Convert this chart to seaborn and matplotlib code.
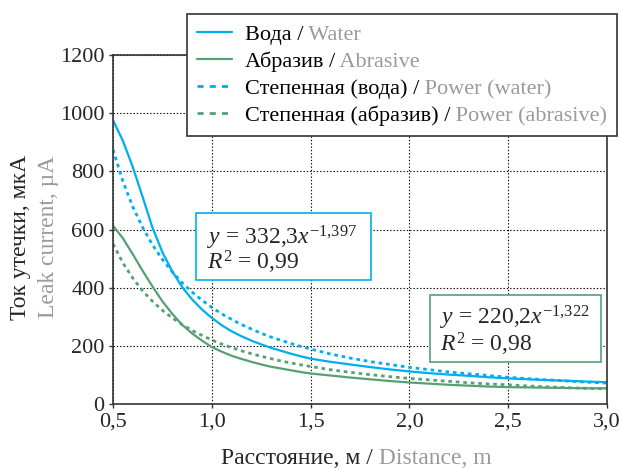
import numpy as np
import pandas as pd
import matplotlib
matplotlib.use("Agg")
import matplotlib.pyplot as plt
from matplotlib.lines import Line2D
from matplotlib.patches import Rectangle
from matplotlib.offsetbox import TextArea, HPacker
import seaborn as sns

# ==================== data ====================
distance = [0.5, 0.55, 0.6, 0.65, 0.7, 0.75, 0.8, 0.85, 0.9, 0.95, 1.0, 1.05,
            1.1, 1.15, 1.2, 1.25, 1.3, 1.35, 1.4, 1.45, 1.5, 1.6, 1.7,
            1.8, 1.9, 2.0, 2.1, 2.2, 2.3, 2.4, 2.5, 2.6, 2.7, 2.8, 2.9, 3.0]
water = [976, 905, 815, 712, 606, 522, 456, 402, 360, 325, 296, 271,
         250, 233, 218, 205, 193, 183, 173, 164, 156, 145, 136,
         127, 119, 112, 106, 101, 97, 92, 88, 85, 82, 80, 77, 75]
abrasive = [613, 570, 515, 458, 404, 353, 310, 272, 243, 218, 196, 180,
            166, 155, 145, 136, 128, 122, 116, 110, 105, 98, 91,
            85, 79, 74, 70, 66, 63, 60, 58, 57, 56, 55, 54, 54]
power_water = [875, 766, 678, 607, 547, 497, 454, 417, 385, 357, 332, 310,
               291, 273, 258, 243, 230, 219, 208, 198, 189, 172, 158,
               146, 136, 126, 118, 110, 104, 98, 92, 87, 83, 79, 75, 72]
power_abrasive = [551, 485, 433, 389, 353, 322, 296, 273, 253, 236, 220, 206,
                  194, 183, 173, 164, 156, 148, 141, 135, 129, 118, 109,
                  101, 94, 88, 83, 78, 73, 69, 66, 62, 59, 56, 54, 52]

xticks = [0.5, 1.0, 1.5, 2.0, 2.5, 3.0]
xtick_labels = ["0,5", "1,0", "1,5", "2,0", "2,5", "3,0"]
yticks = [0, 200, 400, 600, 800, 1000, 1200]

labels_ru = ["Вода /", "Абразив /", "Степенная (вода) /", "Степенная (абразив) /"]
labels_en = ["Water", "Abrasive", "Power (water)", "Power (abrasive)"]

BLUE = "#00aeef"
GREEN = "#55a174"
GRAY = "#9a9a9a"
DARK = "#333333"

# ==================== style ====================
sns.set_style("ticks")
plt.rcParams["font.family"] = ["Liberation Serif", "DejaVu Serif"]
plt.rcParams["mathtext.fontset"] = "custom"
plt.rcParams["mathtext.rm"] = "Liberation Serif"
plt.rcParams["mathtext.it"] = "Liberation Serif:italic"
FS = 16

df = pd.DataFrame({"x": distance, "water": water, "abrasive": abrasive,
                   "pw": power_water, "pa": power_abrasive})

fig = plt.figure(figsize=(6.21, 4.68), dpi=100)
ax = fig.add_axes([113/621, 1-404/468, (607-113)/621, (404-55)/468])

sns.lineplot(data=df, x="x", y="water", ax=ax, color=BLUE, lw=1.6)
sns.lineplot(data=df, x="x", y="abrasive", ax=ax, color=GREEN, lw=1.6)
sns.lineplot(data=df, x="x", y="pw", ax=ax, color=BLUE, lw=2.0, dashes=(1.3, 1.4))
sns.lineplot(data=df, x="x", y="pa", ax=ax, color=GREEN, lw=2.0, dashes=(1.3, 1.4))

ax.set_xlim(0.5, 3.0)
ax.set_ylim(0, 1200)
ax.set_xticks(xticks)
ax.set_xticklabels(xtick_labels)
ax.set_yticks(yticks)
ax.tick_params(labelsize=FS, length=3, width=1, color=DARK, pad=3)
ax.set_xlabel("")
ax.set_ylabel("")
for s in ax.spines.values():
    s.set_color(DARK)
    s.set_linewidth(1.2)
ax.grid(True, color="black", linestyle=(0, (1.2, 1.8)), linewidth=0.8)

# ==================== legend (two-colour labels) ====================
handles = [
    Line2D([], [], color=BLUE, lw=1.6),
    Line2D([], [], color=GREEN, lw=1.6),
    Line2D([], [], color=BLUE, lw=2.0, dashes=(2.2, 2.2)),
    Line2D([], [], color=GREEN, lw=2.0, dashes=(2.2, 2.2)),
]
leg = ax.legend(handles, labels_ru, loc="upper right",
                bbox_to_anchor=(617/621, 1-14/468), bbox_transform=fig.transFigure,
                fontsize=FS, frameon=True, fancybox=False, framealpha=1,
                edgecolor=DARK, borderpad=0.45, labelspacing=0.3,
                handlelength=1.6, handletextpad=0.55, borderaxespad=0)
leg.get_frame().set_linewidth(1.2)
# swap every label box for a black + gray pair
for col in leg._legend_handle_box.get_children():
    for row, ru, en in zip(col.get_children(), labels_ru, labels_en):
        pair = HPacker(pad=0, sep=0, align="baseline", children=[
            TextArea(ru, textprops=dict(color="black", fontsize=FS)),
            TextArea(" " + en, textprops=dict(color=GRAY, fontsize=FS)),
        ])
        row._children[1] = pair
        pair.set_figure(fig)
        for c in pair.get_children():
            c.set_figure(fig)

# ==================== equation boxes ====================
EQ = FS + 1
fig.add_artist(Rectangle((196/621, 1-280/468), 175/621, 67/468, transform=fig.transFigure,
                         facecolor="white", edgecolor=BLUE, lw=1.2, zorder=5))
fig.text(207/621, 1-244/468, r"$y$ = 332,3$x^{-1{,}397}$", fontsize=EQ, va="baseline", zorder=6)
fig.text(207/621, 1-270/468, r"$R^2$ = 0,99", fontsize=EQ, va="baseline", zorder=6)

fig.add_artist(Rectangle((430/621, 1-362/468), 171/621, 67/468, transform=fig.transFigure,
                         facecolor="white", edgecolor=GREEN, lw=1.2, zorder=5))
fig.text(440/621, 1-325/468, r"$y$ = 220,2$x^{-1{,}322}$", fontsize=EQ, va="baseline", zorder=6)
fig.text(440/621, 1-351/468, r"$R^2$ = 0,98", fontsize=EQ, va="baseline", zorder=6)

# ==================== axis titles ====================
fig.text(21/621, 1-237/468, "Ток утечки, мкА", rotation=90, fontsize=FS+1,
         ha="center", va="center")
fig.text(49/621, 1-237/468, "Leak current, µA", rotation=90, fontsize=FS+1,
         ha="center", va="center", color=GRAY)
xl = fig.text(373/621, 1-464/468, "Расстояние, м /", fontsize=FS+1, ha="right", va="baseline")
ax.annotate(" Distance, m", xy=(1, 0), xycoords=xl, va="bottom", ha="left",
            fontsize=FS+1, color=GRAY, annotation_clip=False)

fig.savefig("out.png", dpi=100)
